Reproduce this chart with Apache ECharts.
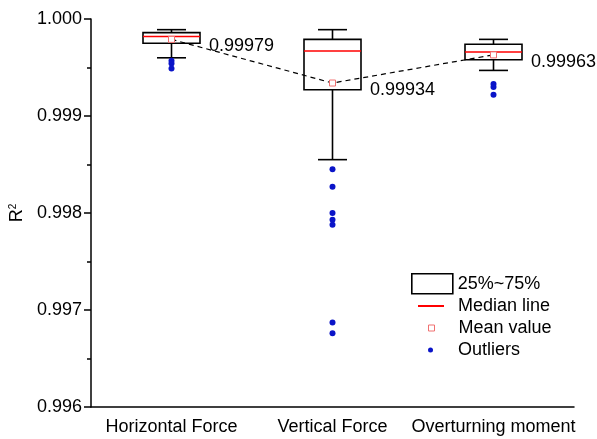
<!DOCTYPE html>
<html>
<head>
<meta charset="utf-8">
<script src="https://cdn.jsdelivr.net/npm/echarts@6/dist/echarts.min.js"></script>
<style>
  html, body { margin: 0; padding: 0; background: #fff; }
  #container { width: 597px; height: 439px; }
</style>
</head>
<body>
<div id="container"></div>
<script>
// values
let categories = ['Horizontal Force', 'Vertical Force', 'Overturning moment'];
let whiskerLow  = [0.99960, 0.99855, 0.99947];
let q1          = [0.99975, 0.99927, 0.99958];
let median      = [0.99982, 0.99967, 0.99966];
let q3          = [0.99986, 0.99979, 0.99974];
let whiskerHigh = [0.99989, 0.99989, 0.99979];
let means       = [0.99979, 0.99934, 0.99963];
let outliers = [
    [0, 0.99957], [0, 0.99954], [0, 0.99949],
    [1, 0.99845], [1, 0.99827], [1, 0.99800], [1, 0.99793], [1, 0.99788], [1, 0.99687], [1, 0.99676],
    [2, 0.99933], [2, 0.99930], [2, 0.99922]
];
let yTicks = {min: 0.996, max: 1.000, step: 0.001};

let font = 'Liberation Sans, Arial, sans-serif';
let boxData = categories.map((c, i) => [i, whiskerLow[i], q1[i], median[i], q3[i], whiskerHigh[i]]);
let medianData = categories.map((c, i) => [i, median[i]]);
let meanData = categories.map((c, i) => [i, means[i]]);

let chart = echarts.init(document.getElementById('container'));

function renderBox(params, api) {
    let x = api.value(0);
    let band = api.size([1, 0])[0];
    let half = band * 0.177;
    let cap = band * 0.09;
    let lo = api.coord([x, api.value(1)]);
    let b = api.coord([x, api.value(2)]);
    let t = api.coord([x, api.value(4)]);
    let hi = api.coord([x, api.value(5)]);
    let st = {stroke: '#000', lineWidth: 1.6, fill: null};
    let cx = b[0];
    return {
        type: 'group',
        children: [
            {type: 'rect', shape: {x: cx - half, y: t[1], width: half * 2, height: b[1] - t[1]}, style: st},
            {type: 'line', shape: {x1: cx, y1: t[1], x2: cx, y2: hi[1]}, style: st},
            {type: 'line', shape: {x1: cx, y1: b[1], x2: cx, y2: lo[1]}, style: st},
            {type: 'line', shape: {x1: cx - cap, y1: hi[1], x2: cx + cap, y2: hi[1]}, style: st},
            {type: 'line', shape: {x1: cx - cap, y1: lo[1], x2: cx + cap, y2: lo[1]}, style: st}
        ]
    };
}

function renderMedian(params, api) {
    let p = api.coord([api.value(0), api.value(1)]);
    let half = api.size([1, 0])[0] * 0.177;
    return {
        type: 'line',
        shape: {x1: p[0] - half, y1: p[1], x2: p[0] + half, y2: p[1]},
        style: {stroke: '#ff0000', lineWidth: 1.6}
    };
}

let legendText = {fontSize: 18, color: '#000', fontFamily: font};

chart.setOption({
    animation: false,
    textStyle: {fontFamily: font},
    grid: {left: 91, right: 23, top: 19, bottom: 32},
    legend: [
        {
            data: [{name: '25%~75%', icon: 'rect', itemStyle: {color: 'rgba(0,0,0,0)', borderColor: '#000', borderWidth: 1.6}}],
            left: 411, top: 273, padding: 0, itemWidth: 41, itemHeight: 20,
            selectedMode: false, textStyle: legendText
        },
        {
            data: [{name: 'Median line', icon: 'rect', itemStyle: {color: '#ff0000', borderWidth: 0}}],
            left: 418, top: 297, padding: 0, itemWidth: 26, itemHeight: 2,
            selectedMode: false, textStyle: Object.assign({padding: [0, 0, 0, 9]}, legendText)
        },
        {
            data: [{name: 'Mean value', icon: 'rect', itemStyle: {color: '#fff', borderColor: '#f07070', borderWidth: 1}}],
            left: 428, top: 319, padding: 0, itemWidth: 6, itemHeight: 6,
            selectedMode: false, textStyle: Object.assign({padding: [0, 0, 0, 19]}, legendText)
        },
        {
            data: [{name: 'Outliers', icon: 'circle', itemStyle: {color: '#0a14c8', borderWidth: 0}}],
            left: 428, top: 341, padding: 0, itemWidth: 5, itemHeight: 5,
            selectedMode: false, textStyle: Object.assign({padding: [0, 0, 0, 20]}, legendText)
        }
    ],
    xAxis: {
        type: 'category',
        data: categories,
        boundaryGap: true,
        axisLine: {lineStyle: {color: '#000', width: 1.5}},
        axisTick: {alignWithLabel: true, length: 7, lineStyle: {color: '#000', width: 1.5}},
        axisLabel: {interval: 0, fontSize: 18, color: '#000', margin: 11, fontFamily: font},
        splitLine: {show: false}
    },
    yAxis: {
        type: 'value',
        min: yTicks.min,
        max: yTicks.max,
        interval: yTicks.step,
        name: 'R{s|2}',
        nameLocation: 'middle',
        nameRotate: 90,
        nameGap: 62,
        nameTextStyle: {fontSize: 18, color: '#000', fontFamily: font, rich: {s: {fontSize: 10, verticalAlign: 'top', color: '#000'}}},
        axisLine: {show: true, lineStyle: {color: '#000', width: 1.5}},
        axisTick: {show: true, length: 7, lineStyle: {color: '#000', width: 1.5}},
        minorTick: {show: true, splitNumber: 2, length: 4, lineStyle: {color: '#000', width: 1.5}},
        axisLabel: {fontSize: 18, color: '#000', margin: 9, fontFamily: font, formatter: (v) => v.toFixed(3)},
        splitLine: {show: false}
    },
    series: [
        {
            name: 'meanLine',
            type: 'line',
            data: meanData,
            symbol: 'none',
            lineStyle: {color: '#000', width: 1.2, type: [5, 4]},
            z: 1
        },
        {
            name: '25%~75%',
            type: 'custom',
            renderItem: renderBox,
            encode: {x: 0, y: [1, 2, 3, 4, 5]},
            data: boxData,
            z: 2
        },
        {
            name: 'Median line',
            type: 'custom',
            renderItem: renderMedian,
            encode: {x: 0, y: 1},
            data: medianData,
            z: 3
        },
        {
            name: 'Mean value',
            type: 'scatter',
            data: meanData,
            symbol: 'rect',
            symbolSize: 6,
            itemStyle: {color: '#fff', borderColor: '#f07070', borderWidth: 1, opacity: 1},
            label: {
                show: true,
                position: 'right',
                distance: 34,
                offset: [0, 7],
                fontSize: 18,
                color: '#000',
                fontFamily: font,
                formatter: (p) => p.value[1].toFixed(5)
            },
            z: 4
        },
        {
            name: 'Outliers',
            type: 'scatter',
            data: outliers,
            symbol: 'circle',
            symbolSize: 6,
            itemStyle: {color: '#0a14c8', opacity: 1},
            z: 4
        }
    ]
});
</script>
</body>
</html>
